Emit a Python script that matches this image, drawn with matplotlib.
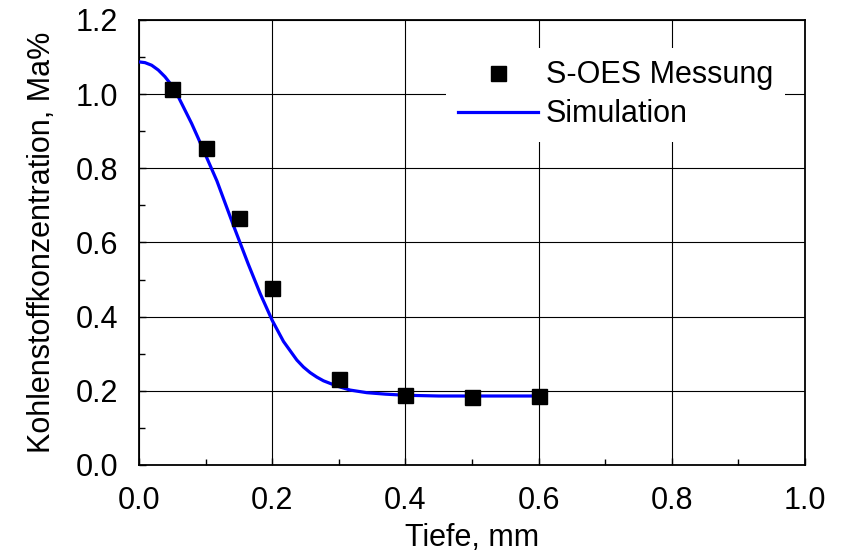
import numpy as np
import matplotlib
matplotlib.use('Agg')
import matplotlib.pyplot as plt
from matplotlib.ticker import MultipleLocator

plt.rcParams['font.family'] = ['Liberation Sans', 'DejaVu Sans']

# S-OES measurement points
depth_meas = [0.05, 0.10, 0.15, 0.20, 0.30, 0.40, 0.50, 0.60]
carbon_meas = [1.013, 0.854, 0.667, 0.478, 0.231, 0.189, 0.183, 0.186]

# simulated carbon profile
depth_sim = [0.0, 0.009, 0.019, 0.029, 0.039, 0.049, 0.059, 0.069, 0.079, 0.089,
             0.097, 0.117, 0.142, 0.164, 0.182, 0.200, 0.217, 0.237, 0.247, 0.257,
             0.267, 0.277, 0.297, 0.317, 0.342, 0.370, 0.400, 0.450, 0.500, 0.550,
             0.600]
carbon_sim = [1.087, 1.085, 1.078, 1.065, 1.047, 1.024, 0.993, 0.957, 0.921, 0.881,
              0.848, 0.766, 0.645, 0.542, 0.462, 0.390, 0.333, 0.283, 0.264, 0.249,
              0.237, 0.227, 0.213, 0.202, 0.195, 0.191, 0.188, 0.186, 0.186, 0.186,
              0.186]

fig = plt.figure(figsize=(8.48, 5.55), dpi=100)
ax = fig.add_axes([0.1639, 0.1622, 0.7854, 0.8018])

ax.plot(depth_sim, carbon_sim, color='#0000ff', lw=2.3, label='Simulation', zorder=3)
ax.plot(depth_meas, carbon_meas, ls='none', marker='s', ms=10.8, color='black',
        label='S-OES Messung', zorder=4)

ax.set_xlim(0, 1.0)
ax.set_ylim(0, 1.2)
ax.xaxis.set_major_locator(MultipleLocator(0.2))
ax.yaxis.set_major_locator(MultipleLocator(0.2))
ax.xaxis.set_minor_locator(MultipleLocator(0.1))
ax.yaxis.set_minor_locator(MultipleLocator(0.1))
ax.xaxis.set_major_formatter(plt.FormatStrFormatter('%.1f'))
ax.yaxis.set_major_formatter(plt.FormatStrFormatter('%.1f'))
ax.tick_params(which='both', direction='in', top=False, right=False, labelsize=22)
ax.tick_params(which='major', length=5, width=1, pad=15)
ax.tick_params(which='minor', length=4, width=1)
ax.grid(True, which='major', color='black', lw=0.8)
for s in ax.spines.values():
    s.set_linewidth(1.3)

ax.set_xlabel('Tiefe, mm', fontsize=22, labelpad=5)
ax.set_ylabel('Kohlenstoffkonzentration, Ma%', fontsize=22, labelpad=13)

handles, labels = ax.get_legend_handles_labels()
leg = ax.legend(handles[::-1], labels[::-1], loc='upper right',
                bbox_to_anchor=(0.97, 0.937), borderaxespad=0, fontsize=22,
                frameon=True, fancybox=False, edgecolor='none', framealpha=1,
                handlelength=2.6, handletextpad=0.25, labelspacing=0.3,
                borderpad=0.4)

fig.savefig('out.png', dpi=100)
